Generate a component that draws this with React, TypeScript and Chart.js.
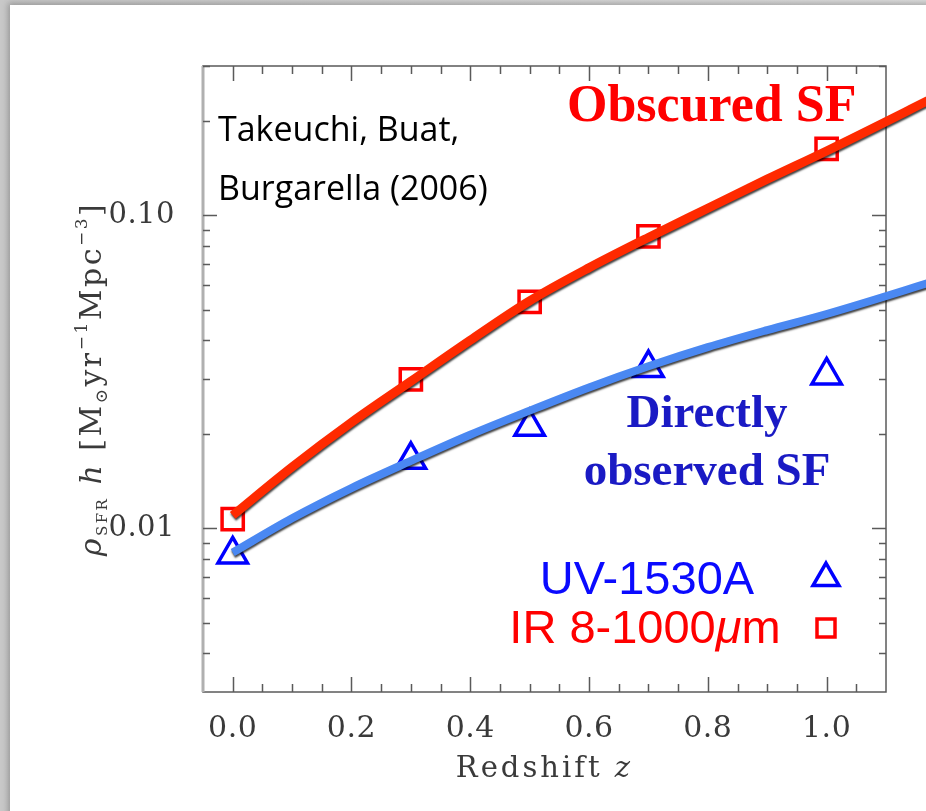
import React, { useEffect, useRef } from 'react';
import { Chart, registerables } from 'chart.js';

Chart.register(...registerables);

// ---- data ----
const modelRedshift = [0.0, 0.1, 0.2, 0.3, 0.4, 0.5, 0.6, 0.7, 0.8, 0.9, 1.0, 1.2];
const obscuredModel = [0.0110, 0.0157, 0.0218, 0.0295, 0.0399, 0.0533, 0.0680, 0.0850, 0.1053, 0.1305, 0.1606, 0.248];
const directModel = [0.00837, 0.01077, 0.01345, 0.01642, 0.01991, 0.02377, 0.0282, 0.03294, 0.03792, 0.04299, 0.0484, 0.0632];

const obsRedshift = [0.0, 0.3, 0.5, 0.7, 1.0];
const irValues = [0.0107, 0.0299, 0.0529, 0.0856, 0.163];
const uvValues = [0.00825, 0.01655, 0.0211, 0.0325, 0.0308];

const xTickValues = [0.0, 0.2, 0.4, 0.6, 0.8, 1.0];
const xTickLabels = ['0.0', '0.2', '0.4', '0.6', '0.8', '1.0'];
const xMinorStep = 0.05;
const yTickValues = [0.01, 0.1];
const yTickLabels = ['0.01', '0.10'];
const yMinorValues = [0.004, 0.005, 0.006, 0.007, 0.008, 0.009, 0.02, 0.03, 0.04, 0.05, 0.06, 0.07, 0.08, 0.09, 0.2, 0.3];

const X_MIN = -0.05;
const X_MAX = 1.1;
const Y_MIN = 0.003;
const Y_MAX = 0.3;

const RED_LINE = '#ff2a00';
const BLUE_LINE = '#4a88f2';
const RED_MARK = '#ff0000';
const BLUE_MARK = '#0000ff';
const AXIS_COLOR = '#5a5a5a';
const SERIF = '"DejaVu Serif", serif';

const pairs = (xs: number[], ys: number[]) => xs.map((x, i) => ({ x, y: ys[i] }));

const spacingPlugin = {
  id: 'tickSpacing',
  beforeDraw(chart: any) {
    (chart.ctx as any).letterSpacing = '0.5px';
  },
  beforeDatasetsDraw(chart: any) {
    (chart.ctx as any).letterSpacing = '0px';
  },
};

const shadowPlugin = {
  id: 'lineShadow',
  beforeDatasetDraw(chart: any, args: any) {
    const ds = chart.data.datasets[args.index];
    if (!ds.shadow) return;
    const ctx = chart.ctx;
    ctx.save();
    ctx.shadowColor = 'rgba(0,0,0,0.75)';
    ctx.shadowBlur = 2;
    ctx.shadowOffsetX = 0.5;
    ctx.shadowOffsetY = 2;
  },
  afterDatasetDraw(chart: any, args: any) {
    const ds = chart.data.datasets[args.index];
    if (!ds.shadow) return;
    chart.ctx.restore();
  },
};

const framePlugin = {
  id: 'frameTicks',
  beforeDatasetsDraw(chart: any) {
    const { ctx, chartArea: a, scales } = chart;
    const xs = scales.x;
    const ys = scales.y;
    ctx.save();
    ctx.strokeStyle = AXIS_COLOR;
    ctx.lineWidth = 1.5;
    ctx.strokeRect(a.left, a.top, a.right - a.left, a.bottom - a.top);
    ctx.strokeStyle = '#b0b0b0';
    ctx.lineWidth = 3;
    ctx.beginPath();
    ctx.moveTo(a.left, a.top);
    ctx.lineTo(a.left, a.bottom);
    ctx.stroke();

    ctx.strokeStyle = AXIS_COLOR;
    ctx.lineWidth = 1.5;
    ctx.beginPath();
    const nMinor = Math.round((X_MAX - X_MIN) / xMinorStep);
    for (let i = 1; i < nMinor; i++) {
      const v = X_MIN + i * xMinorStep;
      const isMajor = xTickValues.some((t) => Math.abs(t - v) < 1e-6);
      const len = isMajor ? 15 : 8;
      const px = Math.round(xs.getPixelForValue(v)) + 0.5;
      ctx.moveTo(px, a.bottom);
      ctx.lineTo(px, a.bottom - len);
      ctx.moveTo(px, a.top);
      ctx.lineTo(px, a.top + len);
    }
    const allY = [...yTickValues.map((v) => [v, 14]), ...yMinorValues.map((v) => [v, 7])];
    for (const [v, len] of allY) {
      const py = Math.round(ys.getPixelForValue(v)) + 0.5;
      ctx.moveTo(a.left, py);
      ctx.lineTo(a.left + len, py);
      ctx.moveTo(a.right, py);
      ctx.lineTo(a.right - len, py);
    }
    ctx.stroke();
    ctx.restore();
  },
};

function drawRuns(ctx: CanvasRenderingContext2D, runs: any[], cx: number, cy: number) {
  let total = 0;
  for (const r of runs) {
    ctx.font = r.font;
    total += ctx.measureText(r.t).width;
  }
  let x = cx - total / 2;
  for (const r of runs) {
    ctx.font = r.font;
    ctx.fillText(r.t, x, cy + (r.dy || 0));
    x += ctx.measureText(r.t).width;
  }
}

const textPlugin = {
  id: 'texts',
  afterDraw(chart: any) {
    const { ctx, chartArea: a } = chart;
    ctx.save();
    ctx.textBaseline = 'alphabetic';
    ctx.textAlign = 'left';

    // axis titles
    ctx.fillStyle = '#3a3a3a';
    (ctx as any).letterSpacing = '3px';
    drawRuns(
      ctx,
      [
        { t: 'Redshift ', font: `29px ${SERIF}` },
        { t: 'z', font: `italic 29px ${SERIF}` },
      ],
      (a.left + a.right) / 2,
      777
    );
    (ctx as any).letterSpacing = '2.5px';
    ctx.save();
    ctx.translate(101, (a.top + a.bottom) / 2);
    ctx.rotate(-Math.PI / 2);
    drawRuns(
      ctx,
      [
        { t: 'ρ', font: `italic 30px ${SERIF}` },
        { t: 'SFR', font: `15px ${SERIF}`, dy: 6 },
        { t: ' h ', font: `italic 30px ${SERIF}` },
        { t: '[M', font: `30px ${SERIF}` },
        { t: '⊙', font: `17px ${SERIF}`, dy: 6 },
        { t: 'yr', font: `30px ${SERIF}` },
        { t: '−1', font: `17px ${SERIF}`, dy: -14 },
        { t: 'Mpc', font: `30px ${SERIF}` },
        { t: '−3', font: `17px ${SERIF}`, dy: -14 },
        { t: ']', font: `30px ${SERIF}` },
      ],
      0,
      0
    );
    ctx.restore();
    (ctx as any).letterSpacing = '0px';

    // annotations
    ctx.fillStyle = '#000000';
    ctx.font = '34px "Open Sans", sans-serif';
    ctx.fillText('Takeuchi, Buat,', 218, 141);
    ctx.fillText('Burgarella (2006)', 218, 200);

    ctx.fillStyle = '#ff0000';
    ctx.font = 'bold 52px "Liberation Serif", serif';
    ctx.fillText('Obscured SF', 567, 121);

    ctx.fillStyle = '#1a1ac4';
    ctx.textAlign = 'center';
    ctx.font = 'bold 47px "Liberation Serif", serif';
    ctx.fillText('Directly', 707, 427);
    ctx.fillText('observed SF', 707, 485);

    ctx.font = '47px "Liberation Sans", sans-serif';
    ctx.fillStyle = '#0a0aff';
    ctx.fillText('UV-1530A', 647, 594);
    ctx.textAlign = 'left';
    ctx.fillStyle = '#ff0000';
    drawRuns(
      ctx,
      [
        { t: 'IR 8-1000', font: '47px "Liberation Sans", sans-serif' },
        { t: 'μ', font: 'italic 47px "Liberation Sans", sans-serif' },
        { t: 'm', font: '47px "Liberation Sans", sans-serif' },
      ],
      645,
      643
    );

    // legend markers
    ctx.lineWidth = 3.5;
    ctx.strokeStyle = BLUE_MARK;
    const tx = 826, ty = 578, r = 15;
    ctx.beginPath();
    ctx.moveTo(tx, ty - r);
    ctx.lineTo(tx + r * 0.866, ty + r * 0.5);
    ctx.lineTo(tx - r * 0.866, ty + r * 0.5);
    ctx.closePath();
    ctx.stroke();
    ctx.strokeStyle = RED_MARK;
    ctx.strokeRect(826 - 9, 628 - 9, 18, 18);
    ctx.restore();
  },
};

export default function App() {
  const ref = useRef<HTMLCanvasElement | null>(null);

  useEffect(() => {
    if (!ref.current) return;
    const chart = new Chart(ref.current, {
      type: 'line',
      data: {
        datasets: [
          {
            label: 'Obscured model',
            data: pairs(modelRedshift, obscuredModel),
            borderColor: RED_LINE,
            borderWidth: 9,
            pointRadius: 0,
            cubicInterpolationMode: 'monotone',
            clip: false,
            borderCapStyle: 'butt',
            shadow: true,
          } as any,
          {
            label: 'Direct model',
            data: pairs(modelRedshift, directModel),
            borderColor: BLUE_LINE,
            borderWidth: 8,
            pointRadius: 0,
            cubicInterpolationMode: 'monotone',
            clip: false,
            borderCapStyle: 'butt',
            shadow: true,
          } as any,
          {
            label: 'IR 8-1000μm',
            data: pairs(obsRedshift, irValues),
            showLine: false,
            pointStyle: 'rect',
            pointRadius: 15,
            pointBorderWidth: 3.5,
            pointBorderColor: RED_MARK,
            pointBackgroundColor: 'rgba(0,0,0,0)',
            clip: false,
          } as any,
          {
            label: 'UV-1530A',
            data: pairs(obsRedshift, uvValues),
            showLine: false,
            pointStyle: 'triangle',
            pointRadius: 17,
            pointBorderWidth: 3.5,
            pointBorderColor: BLUE_MARK,
            pointBackgroundColor: 'rgba(0,0,0,0)',
            clip: false,
          } as any,
        ],
      },
      options: {
        animation: false,
        responsive: false,
        devicePixelRatio: 1,
        events: [],
        layout: { padding: { left: 0, top: 66, right: 40, bottom: 0 } },
        plugins: { legend: { display: false }, tooltip: { enabled: false } },
        scales: {
          x: {
            type: 'linear',
            min: X_MIN,
            max: X_MAX,
            afterFit: (s: any) => {
              s.height = 119;
            },
            afterBuildTicks: (s: any) => {
              s.ticks = xTickValues.map((v) => ({ value: v }));
            },
            grid: { display: false, drawTicks: false },
            border: { display: false },
            ticks: {
              padding: 19,
              maxRotation: 0,
              autoSkip: false,
              color: '#3a3a3a',
              font: { family: '"DejaVu Serif", serif', size: 30 },
              callback: (v: any, i: number) => xTickLabels[i],
            },
          },
          y: {
            type: 'logarithmic',
            min: Y_MIN,
            max: Y_MAX,
            afterFit: (s: any) => {
              s.width = 203;
            },
            afterBuildTicks: (s: any) => {
              s.ticks = yTickValues.map((v) => ({ value: v }));
            },
            grid: { display: false, drawTicks: false },
            border: { display: false },
            ticks: {
              padding: 28,
              autoSkip: false,
              color: '#3a3a3a',
              font: { family: '"DejaVu Serif", serif', size: 29 },
              callback: (v: any, i: number) => yTickLabels[i],
            },
          },
        },
      } as any,
      plugins: [spacingPlugin, shadowPlugin, framePlugin, textPlugin],
    });
    return () => chart.destroy();
  }, []);

  return (
    <div
      style={{
        position: 'fixed',
        left: 0,
        top: 0,
        width: 926,
        height: 811,
        overflow: 'hidden',
        background: 'linear-gradient(90deg, #c8c8c8, #dedede)',
      }}
    >
      <div
        style={{
          position: 'absolute',
          left: 10,
          top: 5,
          width: 960,
          height: 860,
          background: '#ffffff',
          boxShadow: '-2px -2px 6px rgba(0,0,0,0.25)',
        }}
      />
      <canvas ref={ref} width={926} height={811} style={{ position: 'absolute', left: 0, top: 0 }} />
    </div>
  );
}
